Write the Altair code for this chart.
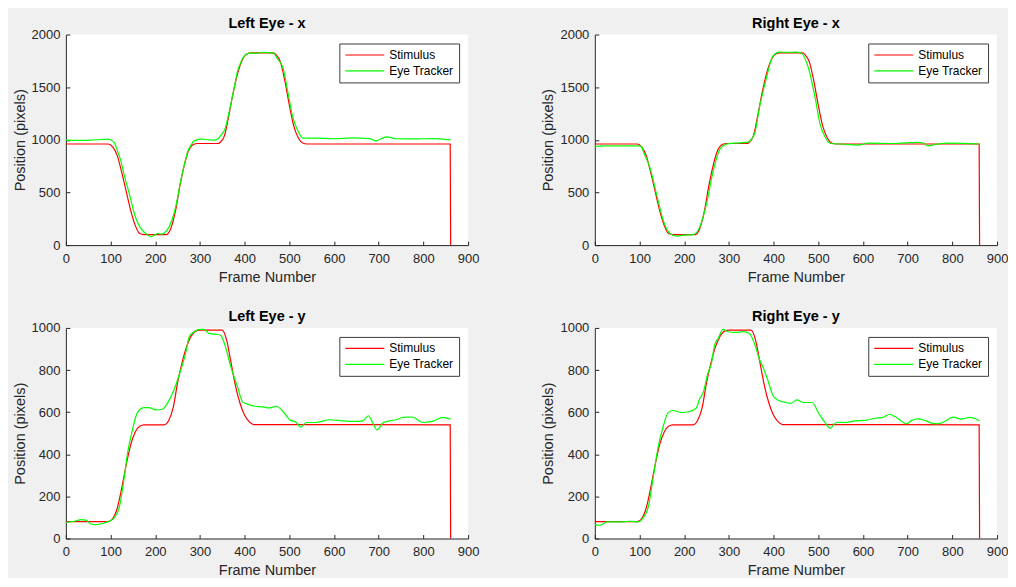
import altair as alt
import pandas as pd

# ---------------- data ----------------
SERIES = ["Stimulus", "Eye Tracker"]
COLORS = ["#ff0000", "#00ff00"]

stim_x_frames = [0, 95, 105, 115, 125, 135, 145, 155, 165, 175, 225, 235, 245, 255, 265, 275, 285, 295,
                 340, 345, 355, 365, 375, 385, 395, 405, 415, 465, 470, 480, 490, 500, 510, 520, 530, 540,
                 860, 861]
stim_x_values = [960, 960, 930, 850, 690, 510, 330, 190, 110, 100, 100, 160, 320, 560, 760, 900, 955, 965,
                 965, 975, 1040, 1240, 1460, 1640, 1760, 1815, 1825, 1825, 1810, 1740, 1560, 1330, 1130,
                 1020, 970, 960, 960, 0]

stim_y_frames = [0, 95, 105, 115, 125, 135, 145, 155, 165, 175, 220, 230, 240, 250, 260, 270, 280, 290,
                 300, 350, 360, 370, 380, 390, 400, 410, 420, 860, 861]
stim_y_values = [80, 80, 95, 145, 240, 350, 445, 505, 533, 540, 540, 560, 620, 740, 835, 910, 960, 985,
                 990, 990, 940, 830, 720, 640, 585, 555, 541, 540, 0]

left_x_frames = [0, 30, 56, 80, 94, 100, 108, 115, 123, 132, 142, 150, 157, 168, 179, 190, 198, 205, 212,
                 220, 231, 242, 250, 257, 265, 272, 280, 287, 302, 320, 332, 340, 346, 357, 363, 369, 377,
                 384, 390, 395, 403, 410, 430, 440, 464, 475, 486, 497, 508, 519, 525, 530, 560, 600, 640,
                 680, 694, 705, 718, 740, 780, 820, 861]
left_x_values = [997, 995, 997, 1003, 1006, 1000, 975, 900, 800, 640, 487, 350, 250, 157, 110, 80, 95, 110,
                 105, 116, 173, 300, 450, 613, 760, 880, 950, 990, 1006, 1000, 997, 1010, 1038, 1116, 1220,
                 1336, 1500, 1650, 1720, 1770, 1810, 1824, 1824, 1830, 1824, 1760, 1682, 1447, 1211, 1085,
                 1040, 1016, 1016, 1010, 1018, 1012, 990, 1010, 1028, 1010, 1008, 1012, 1000]

right_x_frames = [0, 20, 56, 97, 105, 108, 123, 138, 153, 168, 183, 198, 220, 235, 250, 265, 280, 295, 310,
                  340, 357, 369, 384, 398, 413, 430, 450, 463, 478, 493, 504, 516, 527, 560, 590, 612, 664,
                  723, 735, 745, 767, 790, 861]
right_x_values = [937, 943, 943, 943, 935, 896, 740, 487, 236, 110, 85, 94, 100, 173, 393, 707, 912, 960,
                  968, 975, 1053, 1320, 1588, 1792, 1833, 1830, 1833, 1820, 1682, 1400, 1148, 1022, 965,
                  958, 950, 968, 965, 975, 970, 943, 960, 968, 960]

left_y_frames = [0, 19, 34, 45, 56, 68, 86, 97, 108, 120, 131, 138, 149, 160, 175, 186, 201, 216, 227, 242,
                 257, 268, 276, 287, 302, 309, 320, 332, 346, 357, 369, 384, 395, 406, 428, 441, 455, 471,
                 486, 501, 516, 525, 538, 560, 590, 620, 642, 664, 677, 687, 696, 709, 724, 739, 754, 776,
                 798, 820, 843, 861]
left_y_values = [77, 82, 90, 87, 69, 66, 74, 82, 98, 153, 295, 406, 516, 598, 622, 622, 611, 614, 642, 706,
                 800, 879, 958, 982, 993, 993, 974, 971, 966, 911, 816, 721, 650, 638, 627, 625, 620, 628,
                 603, 564, 551, 529, 551, 551, 564, 559, 556, 559, 583, 548, 516, 548, 559, 564, 575, 577,
                 551, 556, 575, 567]

right_y_frames = [0, 12, 27, 56, 79, 97, 108, 120, 131, 142, 153, 164, 175, 194, 212, 227, 235, 242, 253,
                  261, 268, 276, 287, 298, 313, 332, 346, 357, 369, 376, 387, 398, 409, 428, 439, 452, 467,
                  486, 501, 516, 527, 541, 560, 583, 605, 627, 646, 659, 672, 687, 698, 709, 724, 739, 754,
                  769, 783, 802, 820, 839, 861]
right_y_values = [66, 63, 79, 79, 82, 79, 98, 153, 295, 437, 532, 598, 608, 598, 603, 619, 666, 690, 785,
                  832, 919, 950, 993, 982, 979, 982, 974, 927, 848, 816, 753, 682, 658, 646, 642, 658, 646,
                  646, 595, 548, 524, 552, 551, 559, 561, 571, 576, 590, 579, 556, 545, 561, 568, 561, 548,
                  545, 556, 576, 567, 575, 559]

x_ticks = [0, 100, 200, 300, 400, 500, 600, 700, 800, 900]
y_ticks_x = [0, 500, 1000, 1500, 2000]
y_ticks_y = [0, 200, 400, 600, 800, 1000]

# ---------------- styling ----------------
FONT = "Liberation Sans"
TEXT = "#262626"
W, H = 403, 211


def panel(title, stim_f, stim_v, eye_f, eye_v, ymax, yticks):
    stim = pd.DataFrame({"frame": stim_f, "pos": stim_v, "series": SERIES[0]})
    eye = pd.DataFrame({"frame": eye_f, "pos": eye_v, "series": SERIES[1]})
    xs = alt.Scale(domain=[0, 900], nice=False, zero=False)
    ys = alt.Scale(domain=[0, ymax], nice=False, zero=False)
    color = alt.Color(
        "series:N",
        scale=alt.Scale(domain=SERIES, range=COLORS),
        legend=alt.Legend(
            title=None, orient="top-right", offset=9, fillColor="white", strokeColor="#3c3c3c",
            padding=5, labelFontSize=12, labelFont=FONT, labelColor="black", symbolType="stroke",
            symbolSize=1521, symbolStrokeWidth=1.2, labelOffset=4, rowPadding=3, clipHeight=13,
            labelLimit=300,
        ),
    )
    main_x = alt.Axis(values=x_ticks, title="Frame Number", grid=False, ticks=False, domainColor=TEXT,
                      domainWidth=1, labelFont=FONT, labelFontSize=13, labelColor=TEXT, labelPadding=7,
                      titleFont=FONT, titleFontSize=14.5, titleFontWeight="normal", titleColor=TEXT,
                      titlePadding=5, format="d", labelFlush=False)
    main_y = alt.Axis(values=yticks, title="Position (pixels)", grid=False, ticks=False, domainColor=TEXT,
                      domainWidth=1, labelFont=FONT, labelFontSize=13, labelColor=TEXT, labelPadding=6,
                      titleFont=FONT, titleFontSize=14.5, titleFontWeight="normal", titleColor=TEXT,
                      titlePadding=4, format="d", labelFlush=False)
    tick_x = alt.Axis(values=x_ticks, orient="top", offset=-H, title=None, grid=False, labels=False,
                      domain=False, tickSize=4, tickColor=TEXT, tickWidth=1)
    tick_y = alt.Axis(values=yticks, orient="right", offset=-W, title=None, grid=False, labels=False,
                      domain=False, tickSize=4, tickColor=TEXT, tickWidth=1)
    l1 = alt.Chart(stim).mark_line(strokeWidth=1.2, interpolate="monotone").encode(
        x=alt.X("frame:Q", scale=xs, axis=main_x),
        y=alt.Y("pos:Q", scale=ys, axis=main_y),
        color=color,
    )
    l2 = alt.Chart(eye).mark_line(strokeWidth=1.2, interpolate="monotone").encode(
        x=alt.X("frame:Q", scale=xs, axis=tick_x),
        y=alt.Y("pos:Q", scale=ys, axis=tick_y),
        color=color,
    )
    return alt.layer(l1, l2).resolve_axis(x="independent", y="independent").properties(
        width=W, height=H,
        title=alt.TitleParams(title, font=FONT, fontSize=14.5, fontWeight="bold", color="black",
                              offset=-3, anchor="middle", frame="group"),
    )


p1 = panel("Left Eye - x", stim_x_frames, stim_x_values, left_x_frames, left_x_values, 2000, y_ticks_x)
p2 = panel("Right Eye - x", stim_x_frames, stim_x_values, right_x_frames, right_x_values, 2000, y_ticks_x)
p3 = panel("Left Eye - y", stim_y_frames, stim_y_values, left_y_frames, left_y_values, 1000, y_ticks_y)
p4 = panel("Right Eye - y", stim_y_frames, stim_y_values, right_y_frames, right_y_values, 1000, y_ticks_y)

chart = alt.concat(p1, p2, p3, p4, columns=2, spacing={"row": 83, "column": 127}, bounds="flush").resolve_scale(
    color="independent"
).resolve_legend(color="independent").properties(
    background="#f0f0f0",
    padding={"left": 4, "top": 7, "right": 0, "bottom": 0},
).configure_view(strokeWidth=0, fill="white")

chart.save("out.html", embed_options={"renderer": "svg", "actions": False})
